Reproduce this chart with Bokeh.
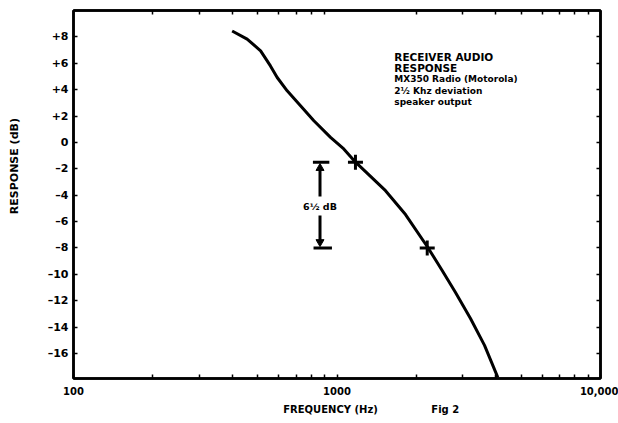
from bokeh.plotting import figure
from bokeh.models import FixedTicker, LogAxis, LinearAxis, Range1d
from bokeh.core.properties import value
from bokeh.embed import file_html
from bokeh.resources import INLINE

# ---- data ----
freq_hz = [400, 456, 513, 559, 593, 647, 727, 817, 945, 1061, 1176, 1528, 1820,
           2206, 2507, 2817, 3211, 3630, 4076]
response_db = [8.45, 7.83, 6.94, 5.80, 4.92, 3.91, 2.78, 1.64, 0.38, -0.50, -1.50,
               -3.66, -5.47, -7.93, -9.71, -11.38, -13.35, -15.39, -17.81]
marker_freq = [1175, 2200]
marker_db = [-1.5, -8.0]
bracket_freq = 862
bracket_top_db = -1.5
bracket_bottom_db = -8.0
bracket_text = "6½ dB"
info_lines = ["RECEIVER AUDIO", "RESPONSE", "MX350 Radio (Motorola)",
              "2½ Khz deviation", "speaker output"]
x_major = [100, 1000, 10000]
x_major_labels = ["100", "1000", "10,000"]
x_minor = [200, 300, 400, 500, 600, 700, 800, 900,
           2000, 3000, 4000, 5000, 6000, 7000, 8000, 9000]
y_ticks = [8, 6, 4, 2, 0, -2, -4, -6, -8, -10, -12, -14, -16]
y_tick_labels = ["+8", "+6", "+4", "+2", "0", "–2", "–4", "–6", "–8",
                 "–10", "–12", "–14", "–16"]
x_title = "FREQUENCY (Hz)"
y_title = "RESPONSE (dB)"
fig_label = "Fig 2"

FONT = "DejaVu Sans"

p = figure(frame_width=527, frame_height=368, x_axis_type="log",
           x_range=Range1d(100, 10000), y_range=Range1d(-17.9, 10.0),
           output_backend="svg", toolbar_location=None,
           min_border_left=73, min_border_right=18, min_border_top=10,
           min_border_bottom=45)
p.background_fill_color = "white"
p.border_fill_color = "white"
p.outline_line_color = "black"
p.outline_line_width = 2.5
p.xgrid.visible = False
p.ygrid.visible = False

xt = FixedTicker(ticks=x_major, minor_ticks=x_minor)
yt = FixedTicker(ticks=y_ticks, minor_ticks=[])


def style_axis(ax):
    ax.axis_line_color = "black"
    ax.axis_line_width = 2.5
    ax.major_tick_in = 4
    ax.major_tick_out = 0
    ax.minor_tick_in = 4
    ax.minor_tick_out = 0
    ax.major_tick_line_width = 1.5
    ax.minor_tick_line_width = 1.5
    ax.major_label_text_font = FONT
    ax.major_label_text_font_style = "bold"
    ax.major_label_text_color = "black"


def title_axis(ax, size, standoff):
    ax.axis_line_color = None
    ax.major_tick_line_color = None
    ax.minor_tick_line_color = None
    ax.major_tick_out = 0
    ax.major_tick_in = 0
    ax.minor_tick_out = 0
    ax.minor_tick_in = 0
    ax.major_label_text_font = FONT
    ax.major_label_text_font_style = "bold"
    ax.major_label_text_color = "black"
    ax.major_label_text_font_size = size
    ax.major_label_standoff = standoff


xa = p.xaxis[0]
xa.ticker = xt
style_axis(xa)
xa.major_label_overrides = {t: s for t, s in zip(x_major, x_major_labels)}
xa.major_label_text_font_size = "10px"
xa.major_label_standoff = 8

ya = p.yaxis[0]
ya.ticker = yt
style_axis(ya)
ya.major_label_overrides = {t: s for t, s in zip(y_ticks, y_tick_labels)}
ya.major_label_text_font_size = "11px"
ya.major_label_standoff = 5

# axis titles placed as extra axes so that they can sit where the original has them
xtitle = LogAxis(ticker=FixedTicker(ticks=[945, 2576], minor_ticks=[]))
title_axis(xtitle, "10px", 6)
xtitle.major_label_overrides = {945: x_title, 2576: fig_label}
p.add_layout(xtitle, "below")

ytitle = LinearAxis(ticker=FixedTicker(ticks=[-1.8], minor_ticks=[]))
title_axis(ytitle, "11px", 23)
ytitle.major_label_orientation = "vertical"
ytitle.major_label_overrides = {-1.8: y_title}
p.add_layout(ytitle, "left")

top = LogAxis(ticker=xt)
style_axis(top)
top.major_label_text_font_size = "1px"
top.major_label_text_alpha = 0
top.major_label_standoff = 0
top.major_tick_in = 0
p.add_layout(top, "above")

right = LinearAxis(ticker=yt)
style_axis(right)
right.major_label_text_font_size = "1px"
right.major_label_text_alpha = 0
right.major_label_standoff = 0
p.add_layout(right, "right")

# curve
p.line(freq_hz, response_db, line_color="black", line_width=3)
p.scatter(marker_freq, marker_db, marker="cross", size=15, line_width=3,
          line_color="black")

# 6.5 dB bracket
p.segment(x0=[bracket_freq * 0.94, bracket_freq * 0.945],
          y0=[bracket_top_db, bracket_bottom_db],
          x1=[bracket_freq * 1.085, bracket_freq * 1.11],
          y1=[bracket_top_db, bracket_bottom_db],
          line_color="black", line_width=3)
mid_db = (bracket_top_db + bracket_bottom_db) / 2
p.segment(x0=[bracket_freq, bracket_freq], y0=[mid_db + 0.65, mid_db - 0.8],
          x1=[bracket_freq, bracket_freq], y1=[bracket_top_db - 0.6, bracket_bottom_db + 0.6],
          line_color="black", line_width=3)
p.scatter([bracket_freq, bracket_freq], [bracket_top_db - 0.45, bracket_bottom_db + 0.45],
          marker="triangle", angle=[0, 3.14159], size=8, color="black")
p.text(x=[bracket_freq], y=[mid_db - 0.1], text=[bracket_text],
       text_font=value(FONT), text_font_style="bold", text_font_size="9.5px",
       text_align="center", text_baseline="middle", text_color="black")

# info text block
info_y = [6.5 - 0.86 * i for i in range(len(info_lines))]
info_size = ["10.5px", "10.5px", "9px", "9px", "9px"]
p.text(x=[1650] * len(info_lines), y=info_y, text=info_lines,
       text_font=value(FONT), text_font_style="bold", text_font_size=info_size,
       text_align="left", text_baseline="middle", text_color="black")

open("out.html", "w").write(file_html(p, INLINE))
